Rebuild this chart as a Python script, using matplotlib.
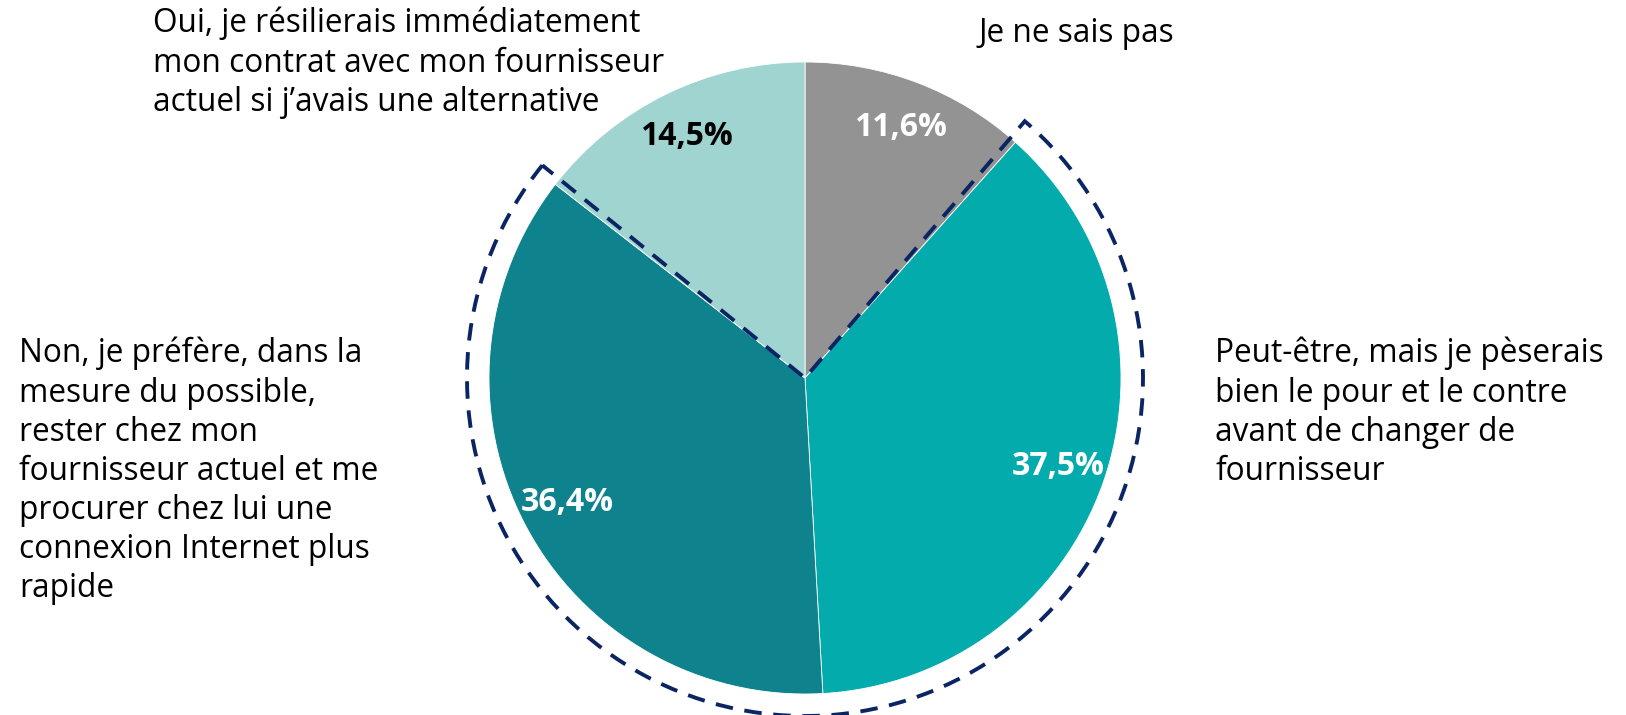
import matplotlib.pyplot as plt
from matplotlib.patches import Wedge

plt.rcParams['font.family'] = ['Open Sans', 'DejaVu Sans']

# données
categories = [
    "Je ne sais pas",
    "Peut-être, mais je pèserais\nbien le pour et le contre\navant de changer de\nfournisseur",
    "Non, je préfère, dans la\nmesure du possible,\nrester chez mon\nfournisseur actuel et me\nprocurer chez lui une\nconnexion Internet plus\nrapide",
    "Oui, je résilierais immédiatement\nmon contrat avec mon fournisseur\nactuel si j’avais une alternative",
]
values = [11.6, 37.5, 36.4, 14.5]
colors = ['#939393', '#03abad', '#0e838e', '#9fd4d0']
pct_colors = ['white', 'white', 'white', 'black']

W, H = 1626, 715
fig = plt.figure(figsize=(W / 100, H / 100), dpi=100)
ax = fig.add_axes([0, 0, 1, 1])

cx, cy, r = 805, 337, 316

wedges, _, autotexts = ax.pie(values, colors=colors, startangle=90, counterclock=False,
                              center=(cx, cy), radius=r, autopct='%1.1f%%', pctdistance=0.85,
                              wedgeprops=dict(linewidth=0.6, edgecolor='white'),
                              frame=True)
ax.set_xlim(0, W)
ax.set_ylim(0, H)
ax.set_aspect('equal')
ax.axis('off')

for t, c in zip(autotexts, pct_colors):
    t.set_text(t.get_text().replace('.', ','))
    t.set_color(c)
    t.set_fontsize(23)
    t.set_fontweight('bold')

# contour pointillé autour de "Peut-être" + "Non"
a_start = 90 - (values[0] + values[1] + values[2]) / 100 * 360 + 360
a_end = 90 - values[0] / 100 * 360 + 360
outline = Wedge((cx, cy), 338, a_start - 1.2, a_end + 1.2, fill=False,
                edgecolor='#0b2463', linewidth=2.8, linestyle=(0, (4.5, 3)))
ax.add_patch(outline)

fs = 22.8
ls = 1.245
ax.text(978, H - 34, categories[0], fontsize=fs, va='center', ha='left')
ax.text(1215, H - 337, categories[1], fontsize=fs, va='top', ha='left', linespacing=ls)
ax.text(19, H - 337, categories[2], fontsize=fs, va='top', ha='left', linespacing=ls)
ax.text(153, H - 7, categories[3], fontsize=fs, va='top', ha='left', linespacing=ls)

fig.savefig('out.png', dpi=100)
